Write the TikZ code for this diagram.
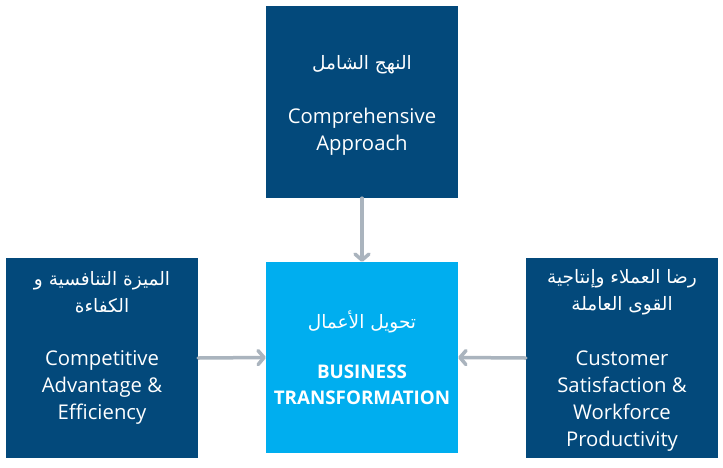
\documentclass[tikz,border=0pt]{standalone}
\usepackage{fontspec}
\setmainfont{Open Sans}
\newfontfamily\arabicfont[Script=Arabic]{DejaVu Sans}
\TeXXeTstate=1
\usetikzlibrary{arrows.meta}
\definecolor{darkblue}{HTML}{03497B}
\definecolor{lightblue}{HTML}{00AEEF}
\definecolor{arrowgray}{HTML}{AAB4BE}
\begin{document}
\begin{tikzpicture}[x=1pt,y=-1pt,
  box/.style={draw=none,inner sep=0pt,minimum width=192pt},
  entext/.style={text=white,align=center,inner sep=0pt,font=\fontsize{20.3}{27}\selectfont},
  artext/.style={text=white,align=center,inner sep=0pt,font=\arabicfont\fontsize{18.5}{27}\selectfont},
  conn/.style={draw=arrowgray,line width=3.5pt,line cap=round,
    -{Straight Barb[length=6pt,width=14pt,line cap=round,line join=round]}}]
\useasboundingbox[fill=white] (0,0) rectangle (723,467);
% boxes
\node[box,fill=darkblue,minimum height=192pt] (topbox) at (362,102) {};
\node[box,fill=lightblue,minimum height=191pt] (centerbox) at (362,357.5) {};
\node[box,fill=darkblue,minimum height=200pt] (leftbox) at (102,358) {};
\node[box,fill=darkblue,minimum height=200pt] (rightbox) at (622,358) {};
% texts
\node[artext] (topar) at (362,64.5) {\beginR النهج الشامل\endR};
\node[entext] (topen) at (362,132) {Comprehensive\\Approach};
\node[artext] (leftar) at (102,292) {\beginR الميزة التنافسية و\endR\\\beginR الكفاءة\endR};
\node[entext] (leften) at (102,387.5) {Competitive\\Advantage \&\\Efficiency};
\node[artext] (rightar) at (622,292) {\beginR رضا العملاء وإنتاجية\endR\\\beginR القوى العاملة\endR};
\node[entext] (righten) at (622,401) {Customer\\Satisfaction \&\\Workforce\\Productivity};
\node[artext] (centerar) at (362,321.5) {\beginR تحويل الأعمال\endR};
\node[entext,font=\bfseries\fontsize{18.8}{26}\selectfont] (centeren) at (362,384.5) {BUSINESS\\TRANSFORMATION};
% connectors
\draw[conn] (topbox.south) -- (centerbox.north);
\draw[conn] (leftbox.east) -- (centerbox.west);
\draw[conn] (rightbox.west) -- (centerbox.east);
\end{tikzpicture}
\end{document}
